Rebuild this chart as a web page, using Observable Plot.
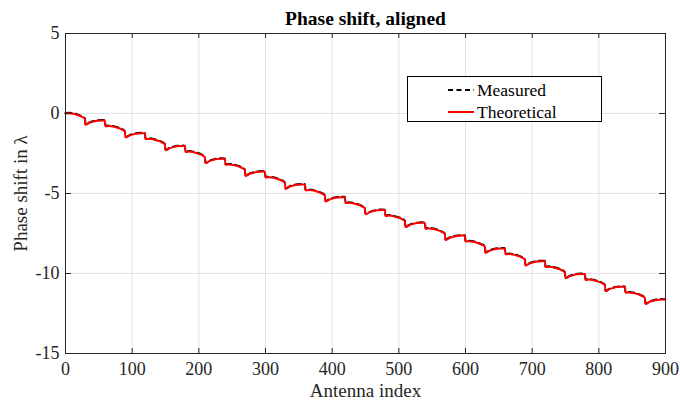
<!DOCTYPE html>
<html><head><meta charset="utf-8">
<script src="https://cdn.jsdelivr.net/npm/d3@7"></script>
<script src="https://cdn.jsdelivr.net/npm/@observablehq/plot@0.6"></script>
<style>
html,body{margin:0;padding:0;background:#fff;}
#wrap{position:relative;width:680px;height:403px;overflow:hidden;}
#legend{position:absolute;left:406px;top:75px;}
#legend text{font-family:"Liberation Serif",serif;font-size:17.5px;fill:#000;}
</style></head><body>
<div id="wrap"></div>
<script>
const xTicks = [0, 100, 200, 300, 400, 500, 600, 700, 800, 900];
const yTicks = [-15, -10, -5, 0, 5];
const seriesNames = ["Measured", "Theoretical"];
// antenna index at the start of each 30-element sub-array
const segmentStarts = [0, 30, 60, 90, 120, 150, 180, 210, 240, 270, 300, 330, 360, 390, 420,
  450, 480, 510, 540, 570, 600, 630, 660, 690, 720, 750, 780, 810, 840, 870];
// sampled positions within a sub-array
const segmentOffsets = [0, 6, 12, 18, 24, 29];

const theoretical = [
  [0.00, 0.02, -0.02, -0.09, -0.19, -0.32],
  [-0.70, -0.58, -0.50, -0.45, -0.43, -0.43],
  [-0.80, -0.78, -0.82, -0.89, -0.99, -1.12],
  [-1.50, -1.38, -1.30, -1.25, -1.23, -1.23],
  [-1.60, -1.58, -1.62, -1.69, -1.79, -1.92],
  [-2.30, -2.18, -2.10, -2.05, -2.03, -2.03],
  [-2.40, -2.38, -2.42, -2.49, -2.59, -2.72],
  [-3.10, -2.98, -2.90, -2.85, -2.83, -2.83],
  [-3.20, -3.18, -3.22, -3.29, -3.39, -3.52],
  [-3.90, -3.78, -3.70, -3.65, -3.63, -3.63],
  [-4.00, -3.98, -4.02, -4.09, -4.19, -4.32],
  [-4.70, -4.58, -4.50, -4.45, -4.43, -4.43],
  [-4.80, -4.78, -4.82, -4.89, -4.99, -5.12],
  [-5.50, -5.38, -5.30, -5.25, -5.23, -5.23],
  [-5.60, -5.58, -5.62, -5.69, -5.79, -5.92],
  [-6.30, -6.18, -6.10, -6.05, -6.03, -6.03],
  [-6.40, -6.38, -6.42, -6.49, -6.59, -6.72],
  [-7.10, -6.98, -6.90, -6.85, -6.83, -6.83],
  [-7.20, -7.18, -7.22, -7.29, -7.39, -7.52],
  [-7.90, -7.78, -7.70, -7.65, -7.63, -7.63],
  [-8.00, -7.98, -8.02, -8.09, -8.19, -8.32],
  [-8.70, -8.58, -8.50, -8.45, -8.43, -8.43],
  [-8.80, -8.78, -8.82, -8.89, -8.99, -9.12],
  [-9.50, -9.38, -9.30, -9.25, -9.23, -9.23],
  [-9.60, -9.58, -9.62, -9.69, -9.79, -9.92],
  [-10.30, -10.18, -10.10, -10.05, -10.03, -10.03],
  [-10.40, -10.38, -10.42, -10.49, -10.59, -10.72],
  [-11.10, -10.98, -10.90, -10.85, -10.83, -10.83],
  [-11.20, -11.18, -11.22, -11.29, -11.39, -11.52],
  [-11.90, -11.78, -11.70, -11.65, -11.63, -11.63]
];

const measured = [
  [0.03, 0.05, 0.01, -0.06, -0.16, -0.30],
  [-0.68, -0.55, -0.47, -0.42, -0.40, -0.41],
  [-0.77, -0.75, -0.79, -0.86, -0.96, -1.10],
  [-1.48, -1.35, -1.27, -1.22, -1.20, -1.21],
  [-1.57, -1.55, -1.59, -1.66, -1.76, -1.90],
  [-2.28, -2.15, -2.07, -2.02, -2.00, -2.01],
  [-2.37, -2.35, -2.39, -2.46, -2.56, -2.70],
  [-3.08, -2.95, -2.87, -2.82, -2.80, -2.81],
  [-3.17, -3.15, -3.19, -3.26, -3.36, -3.50],
  [-3.88, -3.75, -3.67, -3.62, -3.60, -3.61],
  [-3.97, -3.95, -3.99, -4.06, -4.16, -4.30],
  [-4.68, -4.55, -4.47, -4.42, -4.40, -4.41],
  [-4.77, -4.75, -4.79, -4.86, -4.96, -5.10],
  [-5.48, -5.35, -5.27, -5.22, -5.20, -5.21],
  [-5.57, -5.55, -5.59, -5.66, -5.76, -5.90],
  [-6.28, -6.15, -6.07, -6.02, -6.00, -6.01],
  [-6.37, -6.35, -6.39, -6.46, -6.56, -6.70],
  [-7.08, -6.95, -6.87, -6.82, -6.80, -6.81],
  [-7.17, -7.15, -7.19, -7.26, -7.36, -7.50],
  [-7.88, -7.75, -7.67, -7.62, -7.60, -7.61],
  [-7.97, -7.95, -7.99, -8.06, -8.16, -8.30],
  [-8.68, -8.55, -8.47, -8.42, -8.40, -8.41],
  [-8.77, -8.75, -8.79, -8.86, -8.96, -9.10],
  [-9.48, -9.35, -9.27, -9.22, -9.20, -9.21],
  [-9.57, -9.55, -9.59, -9.66, -9.76, -9.90],
  [-10.28, -10.15, -10.07, -10.02, -10.00, -10.01],
  [-10.37, -10.35, -10.39, -10.46, -10.56, -10.70],
  [-11.08, -10.95, -10.87, -10.82, -10.80, -10.81],
  [-11.17, -11.15, -11.19, -11.26, -11.36, -11.50],
  [-11.88, -11.75, -11.67, -11.62, -11.60, -11.61]
];

const rows = [];
segmentStarts.forEach((s, k) => {
  segmentOffsets.forEach((o, i) => {
    rows.push({antenna: s + o, measured: measured[k][i], theoretical: theoretical[k][i]});
  });
});

const W = 680, H = 403, mL = 65, mR = 15, mT = 33, mB = 50;
const fw = W - mL - mR, fh = H - mT - mB;
const axisColor = "#262626";

const chart = Plot.plot({
  width: W, height: H,
  marginLeft: mL, marginRight: mR, marginTop: mT, marginBottom: mB,
  x: {domain: [0, 900]},
  y: {domain: [-15, 5]},
  style: {fontFamily: "Liberation Serif, serif", fontSize: "18px", color: axisColor, background: "white", overflow: "visible"},
  marks: [
    Plot.gridX(xTicks, {stroke: "#e1e1e1", strokeOpacity: 1, strokeWidth: 1}),
    Plot.gridY(yTicks, {stroke: "#e1e1e1", strokeOpacity: 1, strokeWidth: 1}),
    Plot.line(rows, {x: "antenna", y: "measured", stroke: "#000000", strokeWidth: 2, strokeDasharray: "6,4", curve: "monotone-x"}),
    Plot.line(rows, {x: "antenna", y: "theoretical", stroke: "#ff0000", strokeWidth: 2, curve: "monotone-x"}),
    Plot.frame({stroke: axisColor, strokeWidth: 1}),
    Plot.tickX(xTicks, {x: d => d, stroke: axisColor, insetTop: fh - 5}),
    Plot.tickX(xTicks, {x: d => d, stroke: axisColor, insetBottom: fh - 5}),
    Plot.tickY(yTicks, {y: d => d, stroke: axisColor, insetRight: fw - 6}),
    Plot.tickY(yTicks, {y: d => d, stroke: axisColor, insetLeft: fw - 6}),
    Plot.axisX(xTicks, {tickSize: 0, tickPadding: 9, tickFormat: d => String(d), label: null, fontSize: 18, fill: axisColor}),
    Plot.axisY(yTicks, {tickSize: 0, tickPadding: 6, tickFormat: d => String(d), label: null, fontSize: 18, fill: axisColor}),
    Plot.text(["Antenna index"], {text: d => d, frameAnchor: "bottom", dy: 37, textAnchor: "middle", lineAnchor: "middle", fontSize: 19, fill: axisColor}),
    Plot.text(["Phase shift in \u03BB"], {text: d => d, frameAnchor: "left", dx: -45, rotate: -90, textAnchor: "middle", lineAnchor: "middle", fontSize: 19, fill: axisColor}),
    Plot.text(["Phase shift, aligned"], {text: d => d, frameAnchor: "top", dy: -15, textAnchor: "middle", lineAnchor: "middle", fontSize: 19.5, fontWeight: "bold", fill: "#000"})
  ]
});

const wrap = document.getElementById("wrap");
wrap.appendChild(chart);

// legend overlay
const ns = "http://www.w3.org/2000/svg";
const leg = document.createElementNS(ns, "svg");
leg.setAttribute("id", "legend");
leg.setAttribute("width", 197);
leg.setAttribute("height", 48);
const sel = d3.select(leg);
sel.append("rect").attr("x", 1.5).attr("y", 1.5).attr("width", 194).attr("height", 45)
  .attr("fill", "white").attr("stroke", "#000").attr("stroke-width", 1);
const legendStyles = [
  {stroke: "#000000", dash: "5,3.5"},
  {stroke: "#ff0000", dash: null}
];
seriesNames.forEach((name, i) => {
  const y = 15 + i * 22;
  const ln = sel.append("line").attr("x1", 42).attr("x2", 68).attr("y1", y).attr("y2", y)
    .attr("stroke", legendStyles[i].stroke).attr("stroke-width", 2);
  if (legendStyles[i].dash) ln.attr("stroke-dasharray", legendStyles[i].dash);
  sel.append("text").attr("x", 71).attr("y", y).attr("dy", "0.35em").text(name);
});
wrap.appendChild(leg);
</script>
</body></html>
